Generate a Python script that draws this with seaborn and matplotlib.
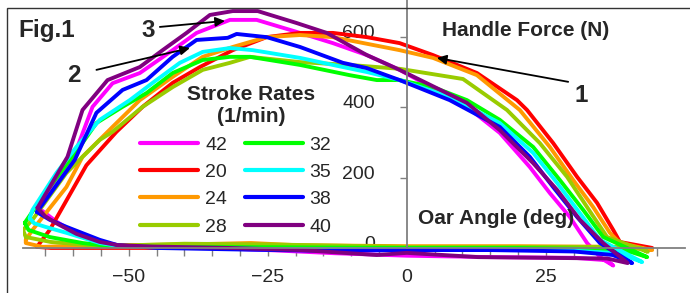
import numpy as np
import pandas as pd
import matplotlib
matplotlib.use("Agg")
import matplotlib.pyplot as plt
from matplotlib.patches import Rectangle
from matplotlib.transforms import ScaledTranslation
import seaborn as sns

sns.set_style("white")
plt.rcParams["font.family"] = ["Liberation Sans", "DejaVu Sans"]

# stroke rates (1/min), in legend order, and their colours
rates = ["42", "20", "24", "28", "32", "35", "38", "40"]
colors = ["#FF00FF", "#FF0000", "#FF9900", "#99CC00", "#00FF00", "#00FFFF", "#0000FF", "#800080"]

# oar angle (deg) / handle force (N) loops, drive then recovery
angle_42 = [-66.5, -60.1, -56.5, -52.9, -48.0, -42.1, -37.8, -31.8, -27.0, -19.2, -13.3, -7.2, -1.3,
            10.8, 16.7, 22.1, 25.7, 29.3, 32.4, 35.0, 37.1, 36.0, 30.0, 15.0, 0.0, -13.0, -25.0,
            -35.0, -45.0, -52.0, -55.0, -59.4, -63.0, -66.5]
force_42 = [117, 250, 401, 468, 497, 562, 611, 648, 648, 611, 582, 548, 506,
            401, 327, 230, 156, 88, 14, -30, -50, -35, -28, -26, -22, -15, -6,
            0, 4, 8, 17, 40, 75, 117]

angle_20 = [-66.5, -64.2, -57.6, -52.2, -47.5, -42.1, -37.2, -31.3, -25.2, -19.2, -13.3, -7.2, -1.3,
            4.7, 12.6, 19.8, 21.6, 26.3, 30.6, 34.2, 37.1, 38.3, 44.1, 40.0, 20.0, 0.0, -30.0,
            -50.0, -64.0, -66.5]
force_20 = [3, 51, 235, 330, 401, 469, 514, 562, 599, 611, 611, 599, 582,
            548, 497, 420, 392, 298, 202, 128, 51, 17, 0, -2, 0, 0, 0,
            0, 0, 3]

angle_24 = [-68.5, -67.3, -61.2, -58.3, -52.9, -48.0, -42.1, -36.7, -31.3, -25.2, -19.2, -13.3, -1.3,
            4.7, 12.6, 20.3, 25.7, 29.9, 33.5, 36.5, 38.3, 44.1, 40.0, 20.0, 0.0, -20.0, -28.0,
            -40.0, -60.0, -65.5, -68.5, -68.5]
force_24 = [23, 51, 173, 259, 344, 420, 486, 543, 571, 599, 605, 599, 562,
            540, 491, 392, 287, 193, 116, 43, 14, -6, 3, 5, 5, 8, 14,
            10, 6, 3, 14, 23]

angle_28 = [-69.0, -67.3, -61.2, -58.3, -55.2, -52.9, -47.5, -42.1, -36.7, -31.8, -28.2, -19.2, -10.3,
            -1.3, 10.1, 18.0, 23.9, 28.8, 32.4, 36.0, 43.3, 42.0, 35.0, 20.0, 0.0, -25.0, -40.0,
            -55.0, -64.0, -68.5, -69.0]
force_28 = [51, 80, 213, 259, 307, 330, 401, 457, 506, 526, 543, 528, 520,
            509, 480, 392, 298, 202, 116, 31, -11, 0, 3, 3, 3, 10, 12,
            5, 17, 31, 51]

angle_32 = [-68.7, -65.5, -58.8, -55.8, -51.1, -46.8, -42.1, -36.7, -31.8, -28.2, -19.2, -10.3, -5.4,
            -1.3, 4.7, 10.8, 16.7, 22.7, 27.5, 31.7, 35.3, 43.2, 40.0, 35.0, 20.0, 0.0, -25.0,
            -45.0, -55.0, -58.3, -64.2, -68.0, -68.7]
force_32 = [71, 145, 287, 355, 401, 440, 497, 534, 543, 543, 520, 491, 477,
            477, 457, 420, 364, 287, 193, 108, 31, -26, -10, -3, 0, 0, 2,
            3, 8, 14, 31, 51, 71]

angle_35 = [-67.8, -67.3, -63.0, -59.4, -55.2, -49.8, -45.7, -40.8, -36.7, -31.8, -27.7, -19.2, -13.3,
            -7.2, -1.3, 7.7, 16.7, 22.7, 27.0, 31.1, 34.7, 42.3, 38.0, 30.0, 15.0, 0.0, -25.0,
            -45.0, -52.0, -55.2, -61.2, -65.0, -67.0, -67.8]
force_35 = [85, 108, 213, 287, 364, 420, 469, 526, 557, 568, 562, 540, 520,
            500, 477, 429, 355, 270, 185, 99, 23, -40, -15, -8, -3, -3, -3,
            2, 6, 14, 43, 60, 70, 85]

angle_38 = [-66.5, -59.7, -55.8, -51.1, -46.8, -42.1, -37.8, -32.2, -30.6, -25.2, -19.2, -11.5, -7.2,
            -1.3, 7.7, 16.7, 22.1, 26.3, 30.6, 34.7, 40.5, 37.0, 30.0, 15.0, 0.0, -15.0, -28.0,
            -45.0, -52.0, -55.2, -61.2, -64.2, -66.5]
force_38 = [102, 250, 384, 449, 477, 543, 591, 597, 608, 599, 571, 526, 511,
            477, 420, 344, 259, 173, 88, 14, -43, -20, -10, -6, -6, -8, -5,
            0, 8, 23, 60, 80, 102]

angle_40 = [-66.4, -61.0, -58.3, -53.8, -48.0, -43.9, -39.6, -35.4, -31.3, -26.8, -19.8, -14.4, -7.2,
            -1.3, 10.8, 16.7, 22.7, 27.0, 31.1, 35.3, 39.7, 36.0, 25.0, 12.8, 0.0, -5.4, -19.0,
            -32.0, -45.7, -52.0, -55.2, -59.4, -63.0, -65.0, -66.4]
force_40 = [114, 259, 392, 477, 514, 562, 611, 662, 673, 673, 639, 611, 548,
            506, 412, 335, 241, 165, 80, 14, -43, -30, -28, -26, -14, -20, -6,
            0, 4, 8, 17, 40, 70, 90, 114]

angles = [angle_42, angle_20, angle_24, angle_28, angle_32, angle_35, angle_38, angle_40]
forces = [force_42, force_20, force_24, force_28, force_32, force_35, force_38, force_40]

df = pd.concat([pd.DataFrame(dict(angle=a, force=f, rate=r))
                for r, a, f in zip(rates, angles, forces)], ignore_index=True)

W, H = 690, 293
def T(px, py):
    return px / W, 1 - py / H

fig = plt.figure(figsize=(W / 100, H / 100), dpi=100)
ax = fig.add_axes([23 / W, 0, 662 / W, 1])

sns.lineplot(data=df, x="angle", y="force", hue="rate", hue_order=rates, palette=colors,
             sort=False, estimator=None, lw=2.8, ax=ax)

ax.set_xlim(-69, 50)
ax.set_ylim(-128, 704.5)
ax.set_xlabel("")
ax.set_ylabel("")
ax.set_xticks([-50, -25, 0, 25])
ax.set_xticks(np.arange(-65, 50, 5), minor=True)
ax.set_yticks([0, 200, 400, 600])

# axes cross at the origin
for s in ["top", "right"]:
    ax.spines[s].set_visible(False)
ax.spines["left"].set_position(("data", 0))
ax.spines["bottom"].set_position(("data", 0))
ax.spines["left"].set_bounds(0, 704.5)
for s in ["left", "bottom"]:
    ax.spines[s].set_color("#808080")
    ax.spines[s].set_linewidth(1.3)
ax.tick_params(axis="x", which="both", direction="out", length=6, width=1, color="#808080",
               pad=9, labelsize=14, bottom=True)
ax.tick_params(axis="y", direction="out", length=5, width=1, color="#808080",
               pad=18, labelsize=14, left=True)
for lab in ax.get_yticklabels():
    lab.set_transform(lab.get_transform() + ScaledTranslation(0, 4 / 72, fig.dpi_scale_trans))

handles, labels = ax.get_legend_handles_labels()
leg = ax.legend(handles, labels, ncol=2, frameon=False, loc="upper left",
                bbox_to_anchor=T(140, 136), bbox_transform=fig.transFigure,
                fontsize=14, handlelength=3.0, handletextpad=0.35, columnspacing=0.9,
                labelspacing=0.5, borderpad=0, borderaxespad=0)
for h in leg.legend_handles:
    h.set_linewidth(3)

bold = dict(fontweight="bold", va="baseline")
fig.text(*T(18, 37), "Fig.1", fontsize=17.5, ha="left", **bold)
fig.text(*T(442, 36), "Handle Force (N)", fontsize=15, ha="left", **bold)
fig.text(*T(418, 224), "Oar Angle (deg)", fontsize=15, ha="left", **bold)
fig.text(*T(251, 100), "Stroke Rates", fontsize=15, ha="center", **bold)
fig.text(*T(251, 122), "(1/min)", fontsize=15, ha="center", **bold)
fig.text(*T(581, 102), "1", fontsize=17.5, ha="center", **bold)
fig.text(*T(74, 82), "2", fontsize=17.5, ha="center", **bold)
fig.text(*T(148, 37), "3", fontsize=17.5, ha="center", **bold)

arrow = dict(arrowstyle="-|>", color="black", lw=1.3, mutation_scale=14, shrinkA=0, shrinkB=0)
ax.annotate("", xy=(5.4, 540), xytext=(29.0, 472), arrowprops=arrow)
ax.annotate("", xy=(-39.0, 568), xytext=(-55.8, 506), arrowprops=arrow)
ax.annotate("", xy=(-32.7, 645), xytext=(-44.4, 628), arrowprops=arrow)

# frame around the figure
fig.add_artist(Rectangle((7 / W, -0.05), 1.0, 1 - 8 / H + 0.05, transform=fig.transFigure,
                         fill=False, ec="#333333", lw=1))

fig.savefig("out.png", dpi=100)
